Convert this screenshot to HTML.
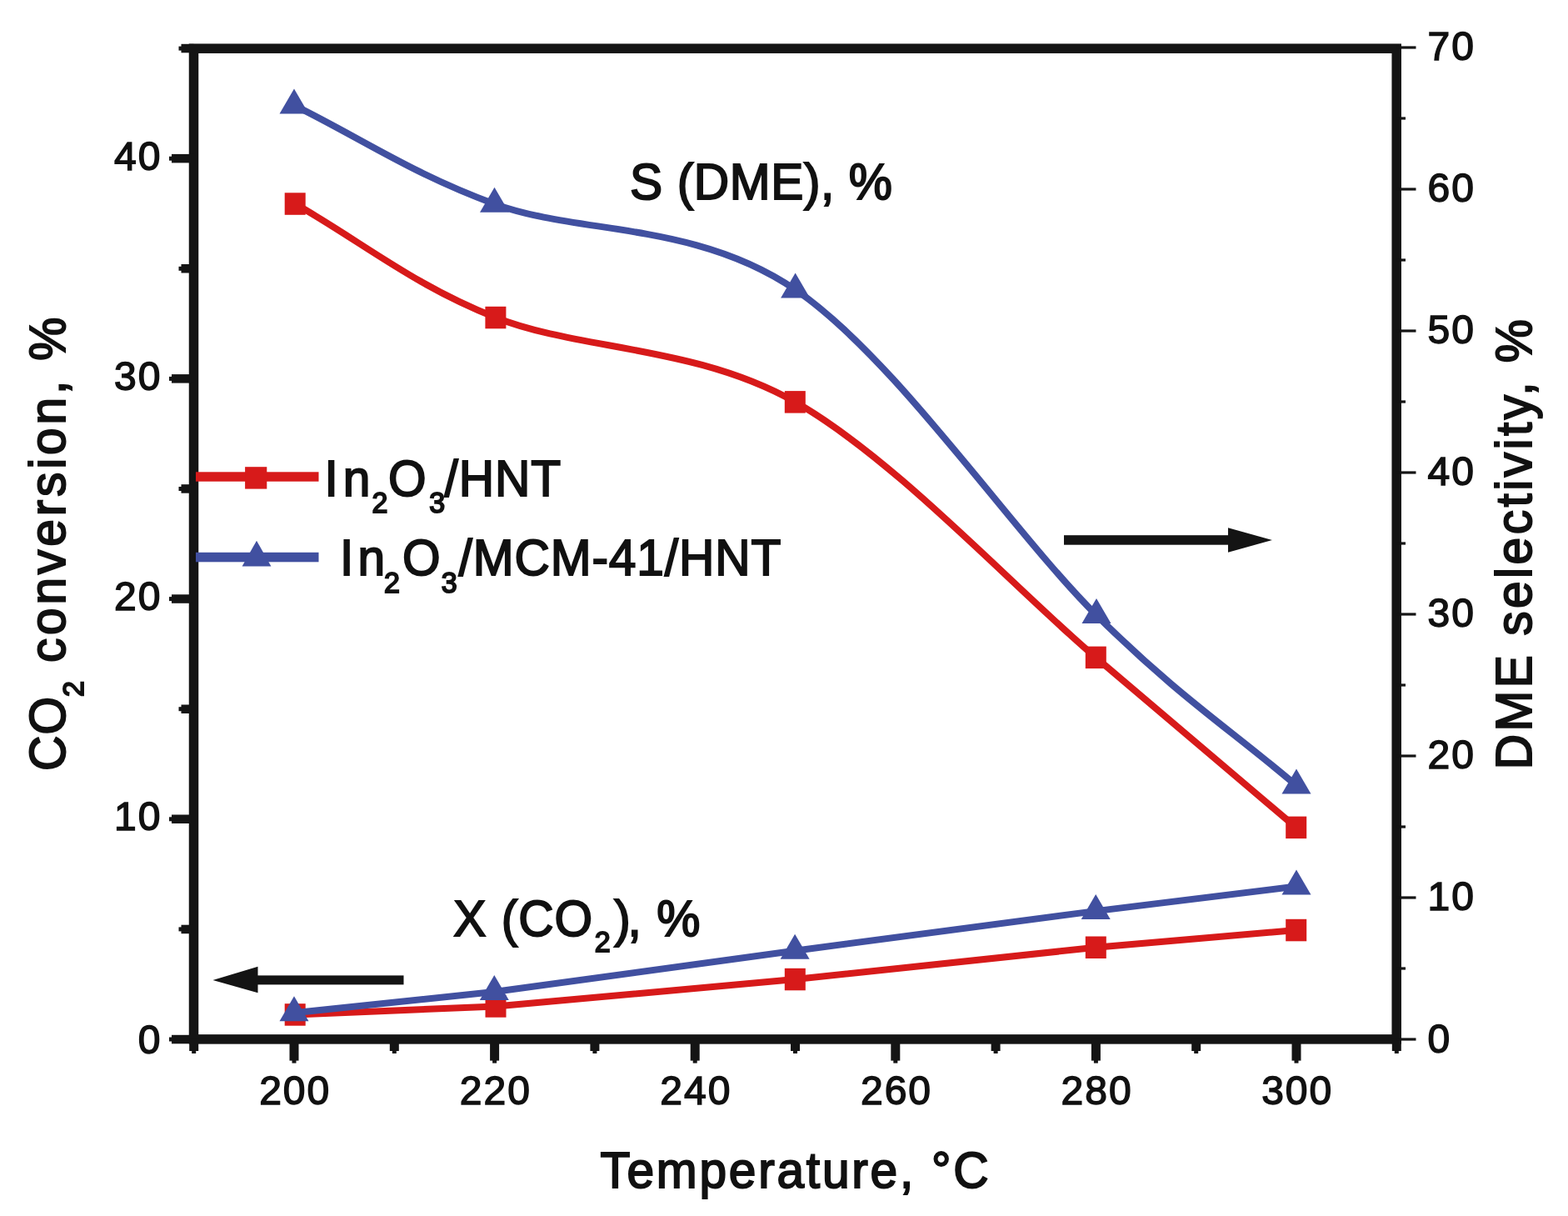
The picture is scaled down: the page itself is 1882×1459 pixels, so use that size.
<!DOCTYPE html>
<html><head><meta charset="utf-8"><title>CO2 conversion and DME selectivity vs temperature</title>
<style>
html,body{margin:0;padding:0;background:#fff;}
svg{display:block;}
text{font-family:'Liberation Sans', Arial, sans-serif;fill:#111;}
.big text{stroke:#111;}
.tk{stroke:#111;stroke-width:1.5px;letter-spacing:2px;}
</style></head>
<body>
<svg width="1882" height="1459" viewBox="0 0 1882 1459">
<rect width="1882" height="1459" fill="#fff"/>
<path d="M354.2,1217.4 L595.0,1207.5 L954.3,1175.0 L1315.3,1136.8 L1555.7,1116.0" fill="none" stroke="#d71a1a" stroke-width="8.0" stroke-linejoin="round"/>
<path d="M354.2,244.6 C434.4,290.1 494.9,341.4 594.9,381.0 C694.9,420.6 834.2,414.3 954.3,482.3 C1074.4,550.3 1215.1,703.8 1315.3,788.9 C1415.5,874.0 1475.6,924.9 1555.7,992.9" fill="none" stroke="#d71a1a" stroke-width="8.0"/>
<rect x="341.7" y="1204.2" width="25.0" height="26.5" fill="#d71a1a"/>
<rect x="582.5" y="1194.2" width="25.0" height="26.5" fill="#d71a1a"/>
<rect x="941.8" y="1161.8" width="25.0" height="26.5" fill="#d71a1a"/>
<rect x="1302.8" y="1123.5" width="25.0" height="26.5" fill="#d71a1a"/>
<rect x="1543.2" y="1102.8" width="25.0" height="26.5" fill="#d71a1a"/>
<rect x="341.7" y="231.3" width="25.0" height="26.5" fill="#d71a1a"/>
<rect x="582.4" y="367.8" width="25.0" height="26.5" fill="#d71a1a"/>
<rect x="941.8" y="469.1" width="25.0" height="26.5" fill="#d71a1a"/>
<rect x="1302.8" y="775.6" width="25.0" height="26.5" fill="#d71a1a"/>
<rect x="1543.2" y="979.6" width="25.0" height="26.5" fill="#d71a1a"/>
<path d="M353.0,1215.3 L593.3,1190.0 L954.1,1140.7 L1315.2,1093.1 L1556.0,1063.5" fill="none" stroke="#4150a0" stroke-width="8.0" stroke-linejoin="round"/>
<path d="M353.0,126.4 C433.2,165.8 493.2,207.8 593.5,244.7 C693.8,281.6 834.2,265.3 954.6,347.5 C1075.0,429.7 1215.8,638.9 1316.0,738.1 C1416.2,837.3 1476.0,874.4 1556.0,942.5" fill="none" stroke="#4150a0" stroke-width="8.0"/>
<polygon points="353.0,1195.3 335.5,1225.3 370.5,1225.3" fill="#4150a0"/>
<polygon points="593.3,1170.0 575.8,1200.0 610.8,1200.0" fill="#4150a0"/>
<polygon points="954.1,1120.7 936.6,1150.7 971.6,1150.7" fill="#4150a0"/>
<polygon points="1315.2,1073.1 1297.7,1103.1 1332.7,1103.1" fill="#4150a0"/>
<polygon points="1556.0,1043.5 1538.5,1073.5 1573.5,1073.5" fill="#4150a0"/>
<polygon points="353.0,106.4 335.5,136.4 370.5,136.4" fill="#4150a0"/>
<polygon points="593.5,224.7 576.0,254.7 611.0,254.7" fill="#4150a0"/>
<polygon points="954.6,327.5 937.1,357.5 972.1,357.5" fill="#4150a0"/>
<polygon points="1316.0,718.1 1298.5,748.1 1333.5,748.1" fill="#4150a0"/>
<polygon points="1556.0,922.5 1538.5,952.5 1573.5,952.5" fill="#4150a0"/>
<rect x="232.5" y="58.2" width="1443.7" height="1188.7" fill="none" stroke="#141414" stroke-width="11.5"/>
<rect x="206.0" y="1241.8" width="26.5" height="10.5" fill="#141414"/>
<rect x="203.0" y="1244.5" width="4" height="5" fill="#141414"/>
<rect x="217.5" y="1109.7" width="15.0" height="10.5" fill="#141414"/>
<rect x="214.5" y="1112.4" width="4" height="5" fill="#141414"/>
<rect x="206.0" y="977.5" width="26.5" height="10.5" fill="#141414"/>
<rect x="203.0" y="980.3" width="4" height="5" fill="#141414"/>
<rect x="217.5" y="845.5" width="15.0" height="10.5" fill="#141414"/>
<rect x="214.5" y="848.2" width="4" height="5" fill="#141414"/>
<rect x="206.0" y="713.3" width="26.5" height="10.5" fill="#141414"/>
<rect x="203.0" y="716.1" width="4" height="5" fill="#141414"/>
<rect x="217.5" y="581.2" width="15.0" height="10.5" fill="#141414"/>
<rect x="214.5" y="584.0" width="4" height="5" fill="#141414"/>
<rect x="206.0" y="449.1" width="26.5" height="10.5" fill="#141414"/>
<rect x="203.0" y="451.9" width="4" height="5" fill="#141414"/>
<rect x="217.5" y="317.0" width="15.0" height="10.5" fill="#141414"/>
<rect x="214.5" y="319.8" width="4" height="5" fill="#141414"/>
<rect x="206.0" y="184.9" width="26.5" height="10.5" fill="#141414"/>
<rect x="203.0" y="187.7" width="4" height="5" fill="#141414"/>
<rect x="217.5" y="52.8" width="15.0" height="10.5" fill="#141414"/>
<rect x="214.5" y="55.6" width="4" height="5" fill="#141414"/>
<rect x="227.2" y="1246.9" width="11" height="14.1" fill="#141414"/>
<rect x="230.2" y="1260.0" width="5" height="4" fill="#141414"/>
<rect x="347.5" y="1246.9" width="11" height="25.7" fill="#141414"/>
<rect x="350.5" y="1271.6" width="5" height="4" fill="#141414"/>
<rect x="467.8" y="1246.9" width="11" height="14.1" fill="#141414"/>
<rect x="470.8" y="1260.0" width="5" height="4" fill="#141414"/>
<rect x="588.1" y="1246.9" width="11" height="25.7" fill="#141414"/>
<rect x="591.1" y="1271.6" width="5" height="4" fill="#141414"/>
<rect x="708.4" y="1246.9" width="11" height="14.1" fill="#141414"/>
<rect x="711.4" y="1260.0" width="5" height="4" fill="#141414"/>
<rect x="828.7" y="1246.9" width="11" height="25.7" fill="#141414"/>
<rect x="831.7" y="1271.6" width="5" height="4" fill="#141414"/>
<rect x="949.0" y="1246.9" width="11" height="14.1" fill="#141414"/>
<rect x="952.0" y="1260.0" width="5" height="4" fill="#141414"/>
<rect x="1069.3" y="1246.9" width="11" height="25.7" fill="#141414"/>
<rect x="1072.3" y="1271.6" width="5" height="4" fill="#141414"/>
<rect x="1189.6" y="1246.9" width="11" height="14.1" fill="#141414"/>
<rect x="1192.6" y="1260.0" width="5" height="4" fill="#141414"/>
<rect x="1309.9" y="1246.9" width="11" height="25.7" fill="#141414"/>
<rect x="1312.9" y="1271.6" width="5" height="4" fill="#141414"/>
<rect x="1430.2" y="1246.9" width="11" height="14.1" fill="#141414"/>
<rect x="1433.2" y="1260.0" width="5" height="4" fill="#141414"/>
<rect x="1550.5" y="1246.9" width="11" height="25.7" fill="#141414"/>
<rect x="1553.5" y="1271.6" width="5" height="4" fill="#141414"/>
<rect x="1670.8" y="1246.9" width="11" height="14.1" fill="#141414"/>
<rect x="1673.8" y="1260.0" width="5" height="4" fill="#141414"/>
<rect x="1676.2" y="1245.4" width="23.3" height="3.2" fill="#141414"/>
<rect x="1676.2" y="1160.4" width="10.8" height="3.2" fill="#141414"/>
<rect x="1676.2" y="1075.4" width="23.3" height="3.2" fill="#141414"/>
<rect x="1676.2" y="990.4" width="10.8" height="3.2" fill="#141414"/>
<rect x="1676.2" y="905.4" width="23.3" height="3.2" fill="#141414"/>
<rect x="1676.2" y="820.4" width="10.8" height="3.2" fill="#141414"/>
<rect x="1676.2" y="735.4" width="23.3" height="3.2" fill="#141414"/>
<rect x="1676.2" y="650.4" width="10.8" height="3.2" fill="#141414"/>
<rect x="1676.2" y="565.4" width="23.3" height="3.2" fill="#141414"/>
<rect x="1676.2" y="480.4" width="10.8" height="3.2" fill="#141414"/>
<rect x="1676.2" y="395.4" width="23.3" height="3.2" fill="#141414"/>
<rect x="1676.2" y="310.4" width="10.8" height="3.2" fill="#141414"/>
<rect x="1676.2" y="225.4" width="23.3" height="3.2" fill="#141414"/>
<rect x="1676.2" y="140.4" width="10.8" height="3.2" fill="#141414"/>
<rect x="1676.2" y="55.4" width="23.3" height="3.2" fill="#141414"/>
<text x="194.5" y="1263.9" text-anchor="end" font-size="48" class="tk">0</text>
<text x="194.5" y="996.1" text-anchor="end" font-size="48" class="tk">10</text>
<text x="194.5" y="731.9" text-anchor="end" font-size="48" class="tk">20</text>
<text x="194.5" y="467.7" text-anchor="end" font-size="48" class="tk">30</text>
<text x="194.5" y="203.5" text-anchor="end" font-size="48" class="tk">40</text>
<text x="1713.5" y="1263.2" font-size="48" class="tk">0</text>
<text x="1713.5" y="1092.3" font-size="48" class="tk">10</text>
<text x="1713.5" y="922.3" font-size="48" class="tk">20</text>
<text x="1713.5" y="752.3" font-size="48" class="tk">30</text>
<text x="1713.5" y="582.3" font-size="48" class="tk">40</text>
<text x="1713.5" y="412.3" font-size="48" class="tk">50</text>
<text x="1713.5" y="242.3" font-size="48" class="tk">60</text>
<text x="1713.5" y="72.3" font-size="48" class="tk">70</text>
<text x="354.2" y="1325.3" text-anchor="middle" font-size="48" class="tk">200</text>
<text x="594.8" y="1325.3" text-anchor="middle" font-size="48" class="tk">220</text>
<text x="835.4" y="1325.3" text-anchor="middle" font-size="48" class="tk">240</text>
<text x="1076.0" y="1325.3" text-anchor="middle" font-size="48" class="tk">260</text>
<text x="1316.6" y="1325.3" text-anchor="middle" font-size="48" class="tk">280</text>
<text x="1557.2" y="1325.3" text-anchor="middle" font-size="48" class="tk">300</text>
<g class="big"><text x="742.69" y="1425.50" font-size="60.50" letter-spacing="2.83" stroke-width="2.00" transform="scale(0.970,1)">Temperature, °C</text></g>
<g class="big" transform="translate(78,923.1) rotate(-90)"><text x="-1.99" y="0.00" font-size="60.50" stroke-width="2.00" transform="scale(0.970,1)">C</text><text x="42.83" y="0.00" font-size="60.50" stroke-width="2.00" transform="scale(0.970,1)">O</text><text x="89.69" y="21.50" font-size="35.00" stroke-width="2.00" transform="scale(0.970,1)">2</text><text x="132.00" y="0.00" font-size="60.50" letter-spacing="3.96" stroke-width="2.00" transform="scale(0.970,1)">conversion, %</text></g>
<g class="big" transform="translate(1837.6,919.5) rotate(-90)"><text x="-3.93" y="0.00" font-size="60.50" letter-spacing="3.57" stroke-width="2.00" transform="scale(0.970,1)">DME selectivity, %</text></g>
<g class="big"><text x="779.44" y="239.50" font-size="60.50" letter-spacing="0.61" stroke-width="2.00" transform="scale(0.970,1)">S (DME), %</text></g>
<g class="big"><text x="561.04" y="1122.70" font-size="60.50" letter-spacing="1.03" stroke-width="2.00" transform="scale(0.970,1)">X (CO</text><text x="735.88" y="1141.70" font-size="35.00" stroke-width="2.00" transform="scale(0.970,1)">2</text><text x="760.11" y="1122.70" font-size="60.50" letter-spacing="-3.49" stroke-width="2.00" transform="scale(0.970,1)">),</text><text x="812.62" y="1122.70" font-size="60.50" stroke-width="2.00" transform="scale(0.970,1)">%</text></g>
<rect x="305" y="1170.4" width="179.5" height="11" fill="#141414"/>
<polygon points="255.5,1175.9 309.5,1159.8 309.5,1191.2" fill="#141414"/>
<rect x="1277" y="642.2" width="200" height="11.5" fill="#141414"/>
<polygon points="1527,648 1474,633.3 1474,662.7" fill="#141414"/>
<rect x="235" y="566.3" width="147.5" height="11.4" fill="#d71a1a"/>
<rect x="294.1" y="560.2" width="26.2" height="26.4" fill="#d71a1a"/>
<rect x="235" y="662.8" width="147.5" height="11.5" fill="#4150a0"/>
<polygon points="308,648.8 290.6,679.4 325.4,679.4" fill="#4150a0"/>
<g class="big"><text x="401.55" y="595.30" font-size="60.50" letter-spacing="6.09" stroke-width="2.00" transform="scale(0.970,1)">In</text><text x="460.31" y="614.80" font-size="35.00" stroke-width="2.00" transform="scale(0.970,1)">2</text><text x="480.46" y="595.30" font-size="60.50" stroke-width="2.00" transform="scale(0.970,1)">O</text><text x="531.25" y="614.80" font-size="35.00" stroke-width="2.00" transform="scale(0.970,1)">3</text><text x="550.00" y="595.30" font-size="60.50" letter-spacing="0.94" stroke-width="2.00" transform="scale(0.970,1)">/HNT</text></g>
<g class="big"><text x="420.62" y="689.60" font-size="60.50" letter-spacing="5.48" stroke-width="2.00" transform="scale(0.970,1)">In</text><text x="475.26" y="710.90" font-size="35.00" stroke-width="2.00" transform="scale(0.970,1)">2</text><text x="497.98" y="689.60" font-size="60.50" stroke-width="2.00" transform="scale(0.970,1)">O</text><text x="546.09" y="710.90" font-size="35.00" stroke-width="2.00" transform="scale(0.970,1)">3</text><text x="567.53" y="689.60" font-size="60.50" letter-spacing="0.91" stroke-width="2.00" transform="scale(0.970,1)">/MCM-41/HNT</text></g>
</svg>
</body></html>
